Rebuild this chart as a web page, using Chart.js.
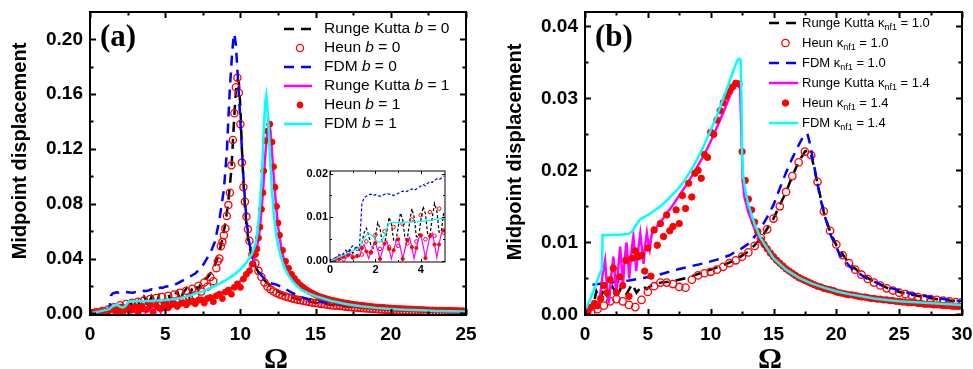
<!DOCTYPE html>
<html lang="en">
<head>
<meta charset="UTF-8">
<title>Midpoint displacement vs Ω</title>
<script src="https://cdn.jsdelivr.net/npm/chart.js"></script>
<style>
  body { margin: 0; background: #fff; }
  .wrap { position: relative; width: 973px; height: 369px; }
  canvas { position: absolute; }
</style>
</head>
<body>
<div class="wrap">
  <canvas id="chartA" width="480" height="369" style="left:0;top:0"></canvas>
  <canvas id="chartB" width="483" height="369" style="left:490px;top:0"></canvas>
  <canvas id="inset" width="160" height="112" style="left:292px;top:165px"></canvas>
</div>
<script>
function seq(a, b, step) {
  const n = Math.round((b - a) / step), out = [];
  for (let i = 0; i <= n; i++) out.push(Math.round((a + i * step) * 100) / 100);
  return out;
}

// ---------- panel (a) ----------
const xTicksA = [0, 5, 10, 15, 20, 25];
const yTicksA = [0, 0.04, 0.08, 0.12, 0.16, 0.20];
const xTicksInset = [0, 2, 4];
const yTicksInset = [0, 0.01, 0.02];

// small-Ω part (also what the inset shows), step 0.1 from 0 to 5
const omegaLowA = seq(0, 5, 0.1);
const rkB0Low = [0, .0002, .0005, .0008, .0006, .0012, .0015, .0010, .0020, .0025,
  .0018, .0028, .0032, .0025, .0040, .0065, .0075, .0060, .0035, .0030,
  .0055, .0088, .0075, .0042, .0038, .0068, .0100, .0085, .0048, .0045,
  .0078, .0110, .0095, .0052, .0050, .0088, .0120, .0102, .0056, .0055,
  .0095, .0125, .0108, .0060, .0060, .0100, .0132, .0115, .0066, .0068, .0110];
const fdmB0Low = [0, .0003, .0006, .0010, .0015, .0012, .0018, .0025, .0020, .0030,
  .0035, .0030, .0032, .0035, .0130, .0145, .0148, .0152, .0153, .0150,
  .0152, .0150, .0148, .0150, .0153, .0155, .0153, .0152, .0150, .0152,
  .0155, .0158, .0160, .0158, .0160, .0163, .0165, .0162, .0165, .0168,
  .0172, .0175, .0172, .0178, .0182, .0180, .0185, .0188, .0186, .0190, .0195];
const rkB1Low = [0, .0002, .0003, .0006, .0004, .0008, .0011, .0007, .0013, .0016,
  .0010, .0008, .0012, .0010, .0030, .0038, .0022, .0006, .0020, .0036,
  .0042, .0025, .0005, .0022, .0040, .0046, .0028, .0005, .0025, .0044,
  .0050, .0030, .0005, .0028, .0048, .0054, .0032, .0006, .0030, .0052,
  .0059, .0035, .0007, .0033, .0057, .0064, .0038, .0008, .0038, .0064, .0070];
const fdmB1Low = [0, .0002, .0004, .0007, .0009, .0011, .0014, .0016, .0019, .0021,
  .0024, .0026, .0029, .0031, .0043, .0052, .0060, .0063, .0061, .0056,
  .0049, .0044, .0043, .0048, .0060, .0076, .0086, .0088, .0088, .0088,
  .0088, .0088, .0088, .0089, .0089, .0089, .0089, .0090, .0090, .0090,
  .0091, .0091, .0092, .0093, .0093, .0094, .0095, .0096, .0096, .0097, .0098];

// rest of the Ω range
const rkB0HighX = [5.2, 5.4, 5.6, 5.8, 6.0, 6.2, 6.4, 6.6, 6.8, 7.0, 7.2, 7.4, 7.6, 7.8, 8.0,
  8.2, 8.4, 8.6, 8.8, 9.0, 9.2, 9.4, 9.5, 9.6, 9.7, 9.8, 9.85, 9.9, 10.0, 10.1,
  10.2, 10.3, 10.4, 10.5, 10.6, 10.8, 11.0, 11.3, 11.6, 12.0, 12.5, 13, 14, 15, 16,
  17, 18, 19, 20, 21, 22, 23, 24, 25];
const rkB0High = [.0145, .0080, .0130, .0160, .0095, .0150, .0180, .0120, .0185, .0210,
  .0170, .0230, .0250, .0260, .0290, .0330, .0380, .0450, .0540, .0660,
  .0820, .1050, .1250, .1450, .1620, .1700, .1700, .1680, .1500, .1200,
  .0960, .0780, .0650, .0560, .0490, .0400, .0340, .0280, .0240, .0200,
  .0160, .0130, .0098, .0077, .0062, .0050, .0041, .0034, .0028, .0023,
  .0019, .0016, .0013, .0011];
const fdmB0HighX = [5.5, 6.0, 6.5, 7.0, 7.5, 8.0, 8.3, 8.6, 8.9, 9.1, 9.2, 9.3, 9.42, 9.52, 9.6,
  9.7, 9.8, 9.9, 10.0, 10.1, 10.2, 10.3, 10.4, 10.5, 10.6, 10.8, 11.0, 11.3, 11.6, 12.0,
  12.4, 12.8, 13.2, 13.6, 14.0, 14.5, 15, 16, 17, 18, 19, 20, 21, 22, 23, 23.5];
const fdmB0High = [.020, .023, .026, .029, .035, .044, .052, .068, .090, .118,
  .142, .164, .185, .199, .204, .196, .178, .160, .140, .120,
  .100, .083, .069, .059, .051, .042, .035, .029, .025, .022,
  .021, .019, .0165, .0140, .0120, .0102, .0090, .0072, .0058, .0047,
  .0039, .0033, .0028, .0024, .0021, .0020];
const rkB1HighX = [5.2, 5.4, 5.6, 5.8, 6.0, 6.2, 6.4, 6.6, 6.8, 7.0, 7.5, 8, 8.5, 9, 9.5,
  10, 10.4, 10.7, 10.9, 11.1, 11.3, 11.5, 11.65, 11.8, 11.9, 12, 12.1, 12.2, 12.3, 12.4,
  12.5, 12.7, 12.9, 13.2, 13.5, 14, 14.5, 15, 16, 17, 18, 19, 20, 21, 22, 23, 24, 25];
const rkB1High = [.0040, .0060, .0075, .0050, .0070, .0082, .0065, .0080, .0090, .0092,
  .0100, .0115, .0135, .0160, .0190, .0235, .0290, .0340, .0390, .0470,
  .0620, .0880, .1150, .1330, .1385, .1330, .1180, .1020, .0880, .0750,
  .0640, .0490, .0390, .0300, .0245, .0185, .0152, .0128, .0095, .0072,
  .0056, .0045, .0037, .0031, .0026, .0022, .0019, .0017];
const fdmB1HighX = [5.5, 6, 6.5, 7, 7.5, 8, 8.5, 9, 9.5, 10, 10.4, 10.7, 10.9, 11.1, 11.3,
  11.45, 11.55, 11.65, 11.72, 11.8, 11.9, 12, 12.1, 12.2, 12.35, 12.5, 12.7, 12.9, 13.2, 13.5,
  14, 14.5, 15, 16, 17, 18, 19, 20, 21, 22, 23, 24, 25];
const fdmB1High = [.0102, .0110, .0125, .0143, .0160, .0185, .0210, .0240, .0275, .0320,
  .0370, .0420, .0470, .0560, .0780, .1050, .1330, .1540, .1590, .1500,
  .1300, .1080, .0900, .0750, .0600, .0500, .0410, .0340, .0275, .0230,
  .0175, .0148, .0125, .0092, .0068, .0052, .0040, .0032, .0026, .0022,
  .0018, .0015, .0013];

// Heun markers
const heunB0X = [...seq(0.2, 8.4, 0.2), ...seq(8.5, 10.6, 0.1), ...seq(10.8, 25, 0.2)];
const heunB0 = [.0003, .0008, .0004, .0018, .0010, .0028, .0015, .0045, .0020, .0060,
  .0028, .0068, .0032, .0078, .0035, .0085, .0040, .0095, .0045, .0105,
  .0050, .0112, .0058, .0120, .0065, .0128, .0072, .0138, .0082, .0150,
  .0095, .0165, .0110, .0180, .0130, .0200, .0160, .0225, .0195, .0265,
  .0235, .0330,
  .0380, .0400, .0490, .0520, .0570, .0620, .0710, .0790, .0880, .1080,
  .1265, .1460, .1650, .1720, .1610, .1380, .1100, .0920, .0815, .0706,
  .0613, .0530,
  .0430, .0365, .0310, .0265, .0225, .0195, .0175, .0160, .0148, .0138,
  .0130, .0123, .0116, .0110, .0104, .0099, .0095, .0090, .0086, .0082,
  .0078, .0075, .0072, .0069, .0066, .0063, .0060, .0057, .0055, .0053,
  .0051, .0049, .0047, .0045, .0043, .0041, .0039, .0037, .0035, .0034,
  .0032, .0031, .0029, .0028, .0027, .0026, .0025, .0024, .0023, .0022,
  .0021, .0020, .0019, .0019, .0018, .0017, .0017, .0016, .0015, .0015,
  .0014, .0014, .0013, .0013, .0012, .0012, .0011, .0011, .0010, .0010,
  .0010, .0009];
const heunB1X = [...seq(0.2, 11, 0.2),
  11.1, 11.2, 11.3, 11.4, 11.5, 11.55, 11.65, 11.8, 11.95, 12.1, 12.2, 12.3, 12.4, 12.5, 12.6, 12.8,
  ...seq(13, 25, 0.2)];
const heunB1 = [.0002, .0005, .0010, .0014, .0008, .0012, .0030, .0022, .0020, .0042,
  .0005, .0040, .0028, .0025, .0050, .0005, .0048, .0032, .0030, .0059,
  .0007, .0057, .0038, .0038, .0070, .0040, .0062, .0072, .0050, .0070,
  .0078, .0062, .0082, .0088, .0070, .0095, .0098, .0075, .0108, .0115,
  .0085, .0128, .0140, .0108, .0155, .0170, .0140, .0190, .0215, .0190,
  .0250, .0285, .0310, .0360, .0430,
  .0470, .0550, .0630, .0760, .0880, .1040, .1260, .1330, .1380, .1250,
  .1070, .0920, .0780, .0660, .0570, .0460,
  .0380, .0330, .0285, .0255, .0228, .0205, .0188, .0172, .0158, .0146,
  .0135, .0125, .0118, .0111, .0104, .0098, .0093, .0088, .0083, .0079,
  .0075, .0072, .0068, .0065, .0062, .0059, .0057, .0054, .0052, .0049,
  .0047, .0045, .0044, .0042, .0040, .0039, .0037, .0036, .0035, .0034,
  .0033, .0032, .0031, .0030, .0029, .0028, .0027, .0026, .0025, .0025,
  .0024, .0023, .0023, .0022, .0022, .0021, .0020, .0020, .0019, .0019,
  .0018];

// ---------- panel (b) ----------
const xTicksB = [0, 5, 10, 15, 20, 25, 30];
const yTicksB = [0, 0.01, 0.02, 0.03, 0.04];

const rkK10X = [0, 0.4, 0.7, 0.9, 1.2, 1.5, 1.85, 2.2, 2.6, 2.95, 3.3, 3.75, 4.1, 4.55, 4.9,
  5.3, 6, 7, 8, 9, 10, 11, 12, 13, 14, 15, 16, 16.5, 17, 17.5,
  17.8, 18, 18.5, 19, 19.5, 20, 21, 22, 23, 24, 25, 26, 27, 28, 29, 30];
const rkK10 = [.0003, .0008, .0015, .0032, .0020, .0036, .0022, .0038, .0025, .0041,
  .0028, .0042, .0030, .0040, .0035, .0040, .0044, .0046, .0050, .0056,
  .0062, .0068, .0076, .0087, .0105, .0133, .0170, .0192, .0212, .0226,
  .0228, .0222, .0182, .0142, .0115, .0096, .0071, .0056, .0045, .0037,
  .0031, .0027, .0024, .0021, .0019, .0018];
const heunK10X = seq(0.5, 30, 0.5);
const heunK10 = [.0003, .0007, .0012, .0018, .0021, .0018, .0013, .0010, .0020, .0031,
  .0039, .0044, .0044, .0042, .0038, .0037, .0048, .0054, .0057, .0059,
  .0062, .0066, .0071, .0075, .0080, .0086, .0095, .0106, .0118, .0133,
  .0150, .0170, .0192, .0211, .0226, .0221, .0184, .0143, .0116, .0097,
  .0082, .0071, .0062, .0055, .0049, .0044, .0040, .0036, .0033, .0030,
  .0028, .0026, .0024, .0022, .0021, .0020, .0019, .0018, .0017, .0017];
const fdmK10X = [0.6, 1.5, 2.5, 3.5, 4.5, 5.5, 6.5, 7.5, 8.5, 9.5, 10.5, 11.5, 12.5, 13, 13.5,
  14, 14.5, 15, 15.5, 16, 16.5, 17, 17.4, 17.7, 17.9, 18.3, 18.7, 19.1, 19.6, 20.3,
  21.2, 22.4, 24, 25.9, 27.8, 30];
const fdmK10 = [.0041, .0043, .0045, .0047, .0050, .0053, .0058, .0063, .0067, .0071,
  .0076, .0082, .0092, .0098, .0108, .0120, .0135, .0152, .0175, .0197,
  .0217, .0235, .0248, .0251, .0237, .0200, .0163, .0135, .0108, .0082,
  .0064, .0050, .0038, .0029, .0023, .0018];
const rkK14X = [0, 0.5, 1.0, 1.2, 1.4, 1.6, 1.75, 1.9, 2.1, 2.26, 2.4, 2.5, 2.65, 2.8, 2.92,
  3.02, 3.15, 3.3, 3.42, 3.52, 3.68, 3.85, 3.97, 4.07, 4.25, 4.4, 4.55, 4.66, 4.8, 4.92,
  5.05, 5.15, 5.3, 5.45, 5.6, 5.8, 6, 6.5, 7, 7.5, 8, 8.5, 9, 9.5, 10,
  10.5, 11, 11.5, 11.8, 12, 12.2, 12.35, 12.45, 12.55, 12.7, 13, 13.5, 14, 15, 16,
  17, 18, 19, 20, 22, 24, 26, 28, 30];
const rkK14 = [.0003, .0006, .0010, .0025, .0055, .0075, .0040, .0015, .0055, .0080,
  .0050, .0025, .0065, .0094, .0065, .0038, .0075, .0100, .0075, .0050,
  .0085, .0108, .0085, .0060, .0092, .0112, .0088, .0070, .0098, .0113,
  .0098, .0090, .0110, .0120, .0118, .0124, .0128, .0140, .0152, .0165,
  .0178, .0192, .0207, .0222, .0240, .0260, .0280, .0302, .0314, .0320,
  .0322, .0312, .0250, .0185, .0162, .0142, .0118, .0100, .0076, .0060,
  .0049, .0041, .0035, .0031, .0024, .0019, .0016, .0013, .0012];
const heunK14X = seq(0.25, 30, 0.25);
const heunK14 = [.0004, .0010, .0015, .0012, .0022, .0040, .0030, .0048, .0064, .0030,
  .0052, .0040, .0075, .0025, .0078, .0088, .0080, .0082, .0060, .0092,
  .0053, .0117, .0096, .0126, .0108, .0138, .0116, .0122, .0145, .0126,
  .0165, .0147, .0182, .0163, .0196, .0200, .0189, .0222, .0218, .0253,
  .0250, .0270, .0283, .0294, .0303, .0310, .0316, .0321, .0320, .0226,
  .0186, .0160, .0145, .0128, .0115, .0103, .0097, .0091, .0085, .0080,
  .0075, .0071, .0067, .0063, .0060, .0057, .0054, .0051, .0049, .0047,
  .0045, .0043, .0041, .0039, .0038, .0036, .0035, .0034, .0033, .0031,
  .0030, .0029, .0028, .0027, .0027, .0026, .0025, .0024, .0024, .0023,
  .0022, .0022, .0021, .0021, .0020, .0020, .0019, .0019, .0018, .0018,
  .0017, .0017, .0016, .0016, .0016, .0015, .0015, .0014, .0014, .0014,
  .0013, .0013, .0013, .0012, .0012, .0012, .0011, .0011, .0011, .0011];
const fdmK14X = [0, 0.4, 0.8, 1.2, 1.35, 1.4, 2, 3, 3.5, 3.8, 4.1, 4.4, 4.8, 5.2, 6,
  6.5, 7, 7.5, 8, 8.5, 9, 9.5, 10, 10.5, 11, 11.5, 11.8, 12.1, 12.25, 12.38,
  12.45, 12.5, 12.6, 12.8, 13, 13.5, 14, 15, 16, 17, 18, 19, 20, 21, 22,
  23, 24, 25, 26, 27, 28, 29, 30];
const fdmK14 = [.0006, .0020, .0038, .0058, .0062, .0110, .0110, .0111, .0112, .0116,
  .0125, .0132, .0136, .0140, .0150, .0158, .0167, .0176, .0188, .0202,
  .0218, .0236, .0256, .0276, .0300, .0323, .0338, .0352, .0355, .0354,
  .0300, .0220, .0190, .0168, .0152, .0125, .0105, .0078, .0062, .0051,
  .0043, .0037, .0032, .0028, .0025, .0022, .0020, .0018, .0017, .0016,
  .0015, .0014, .0013];

// ---------- helpers ----------
const pts = (xs, ys) => xs.map((x, i) => ({ x, y: ys[i] }));

function lineSet(label, xs, ys, color, dash, w) {
  return { label, data: pts(xs, ys), borderColor: color, backgroundColor: color,
    borderWidth: w, borderDash: dash, pointRadius: 0, fill: false, tension: 0 };
}
function dotSet(label, xs, ys, color, filled, r, bw) {
  return { label, data: pts(xs, ys), showLine: false, borderColor: color,
    backgroundColor: filled ? color : 'rgba(0,0,0,0)', pointRadius: r,
    pointBorderWidth: bw, pointBorderColor: color,
    pointBackgroundColor: filled ? color : 'rgba(0,0,0,0)' };
}

// label text: *x* italic, _{x} subscript
function richText(ctx, str, x, y, size, family) {
  const parts = str.split(/(\*[^*]+\*|_\{[^}]+\})/).filter(Boolean);
  for (const p of parts) {
    let t = p, font = size + 'px ' + family, dy = 0;
    if (p[0] === '*') { t = p.slice(1, -1); font = 'italic ' + font; }
    else if (p.startsWith('_{')) { t = p.slice(2, -1); font = Math.round(size * 0.7) + 'px ' + family; dy = size * 0.32; }
    ctx.font = font;
    ctx.fillText(t, x, y + dy);
    x += ctx.measureText(t).width;
  }
}

const mids = arr => arr.slice(1).map((v, i) => (v + arr[i]) / 2);

const decor = {
  id: 'decor',
  afterDraw(chart, args, o) {
    const { ctx, chartArea: a, scales: { x, y } } = chart;
    ctx.save();
    ctx.strokeStyle = '#000';
    ctx.fillStyle = '#000';
    ctx.setLineDash([]);
    // inward ticks on all four sides
    ctx.lineWidth = o.tickWidth;
    ctx.beginPath();
    const xm = x.ticks.map(t => t.value), ym = y.ticks.map(t => t.value);
    [[xm, o.major], [mids(xm), o.minor]].forEach(([vals, len]) => vals.forEach(v => {
      const p = Math.round(x.getPixelForValue(v)) + 0.5;
      ctx.moveTo(p, a.bottom); ctx.lineTo(p, a.bottom - len);
      ctx.moveTo(p, a.top); ctx.lineTo(p, a.top + len);
    }));
    [[ym, o.major], [mids(ym), o.minor]].forEach(([vals, len]) => vals.forEach(v => {
      const p = Math.round(y.getPixelForValue(v)) + 0.5;
      ctx.moveTo(a.left, p); ctx.lineTo(a.left + len, p);
      ctx.moveTo(a.right, p); ctx.lineTo(a.right - len, p);
    }));
    ctx.stroke();
    ctx.lineWidth = o.frameWidth;
    ctx.strokeRect(a.left, a.top, a.right - a.left, a.bottom - a.top);

    if (o.panel) {
      ctx.font = 'bold 31px "Liberation Serif"';
      ctx.textBaseline = 'alphabetic';
      ctx.textAlign = 'left';
      ctx.fillText(o.panel, o.panelX, o.panelY);
      // x title
      ctx.font = 'bold 30px "Liberation Serif"';
      ctx.textAlign = 'center';
      ctx.fillText('Ω', o.xTitleX, o.xTitleY);
      // y title
      ctx.save();
      ctx.translate(o.yTitleX, o.yTitleY);
      ctx.rotate(-Math.PI / 2);
      ctx.font = 'bold 20px "Liberation Sans"';
      ctx.textBaseline = 'middle';
      ctx.fillText('Midpoint displacement', 0, 0);
      ctx.restore();
    }

    if (o.legend) {
      const L = o.legend;
      chart.data.datasets.forEach((ds, i) => {
        const yy = L.y0 + i * L.dy;
        if (ds.showLine === false) {
          ctx.beginPath();
          ctx.lineWidth = ds.pointBorderWidth;
          ctx.strokeStyle = ds.borderColor;
          ctx.fillStyle = ds.pointBackgroundColor;
          ctx.arc((L.x1 + L.x2) / 2 + 2, yy, ds.pointRadius, 0, Math.PI * 2);
          ctx.fill();
          ctx.stroke();
        } else {
          ctx.beginPath();
          ctx.lineWidth = ds.borderWidth;
          ctx.strokeStyle = ds.borderColor;
          ctx.setLineDash(ds.borderDash || []);
          ctx.moveTo(L.x1, yy); ctx.lineTo(L.x2, yy);
          ctx.stroke();
          ctx.setLineDash([]);
        }
        ctx.fillStyle = '#000';
        ctx.textAlign = 'left';
        ctx.textBaseline = 'middle';
        richText(ctx, ds.label, L.tx, yy, L.size, '"Liberation Sans"');
      });
    }
    ctx.restore();
  }
};

function axes(xMin, xMax, yMin, yMax, xTicks, yTicks, yDigits, fontSize, yWidth, xHeight, pad) {
  const font = { family: '"Liberation Sans"', size: fontSize, weight: 'bold' };
  return {
    x: {
      type: 'linear', min: xMin, max: xMax,
      grid: { display: false, drawTicks: false }, border: { display: false },
      ticks: { font, color: '#000', padding: pad.x, autoSkip: false, maxRotation: 0,
        callback: v => String(v) },
      afterBuildTicks: s => { s.ticks = xTicks.map(v => ({ value: v })); },
      afterFit: s => { s.height = xHeight; s.paddingLeft = 0; s.paddingRight = 0; }
    },
    y: {
      type: 'linear', min: yMin, max: yMax,
      grid: { display: false, drawTicks: false }, border: { display: false },
      ticks: { font, color: '#000', padding: pad.y, autoSkip: false,
        callback: v => Number(v).toFixed(yDigits) },
      afterBuildTicks: s => { s.ticks = yTicks.map(v => ({ value: v })); },
      afterFit: s => { s.width = yWidth; s.paddingTop = 0; s.paddingBottom = 0; }
    }
  };
}

function withOrder(sets) {
  return sets.map((d, i) => Object.assign(d, { order: sets.length - i }));
}

const common = {
  responsive: false, animation: false, devicePixelRatio: 1, events: [],
  plugins: { legend: { display: false }, tooltip: { enabled: false } }
};

// panel (a)
new Chart(document.getElementById('chartA'), {
  type: 'line',
  data: { datasets: withOrder([
    lineSet('Runge Kutta *b* = 0', [...omegaLowA, ...rkB0HighX], [...rkB0Low, ...rkB0High], '#000000', [10, 7], 2.5),
    dotSet('Heun *b* = 0', heunB0X, heunB0, '#ff0000', false, 3.6, 1.3),
    lineSet('FDM *b* = 0', [...omegaLowA, ...fdmB0HighX], [...fdmB0Low, ...fdmB0High], '#0000ff', [10, 7], 2.5),
    lineSet('Runge Kutta *b* = 1', [...omegaLowA, ...rkB1HighX], [...rkB1Low, ...rkB1High], '#ff00ff', [], 2.5),
    dotSet('Heun *b* = 1', heunB1X, heunB1, '#ff0000', true, 3, 1),
    lineSet('FDM *b* = 1', [...omegaLowA, ...fdmB1HighX], [...fdmB1Low, ...fdmB1High], '#00ffff', [], 2.5)
  ]) },
  options: Object.assign({}, common, {
    layout: { padding: { top: 12, right: 14, left: 0, bottom: 0 } },
    scales: axes(0, 25, -0.0012, 0.2199, xTicksA, yTicksA, 2, 19, 90, 54, { x: 8, y: 7 }),
    plugins: Object.assign({}, common.plugins, {
      decor: { frameWidth: 2, tickWidth: 2, major: 6, minor: 3.5,
        panel: '(a)', panelX: 100, panelY: 46, xTitleX: 276, xTitleY: 368, yTitleX: 20, yTitleY: 151,
        legend: { x1: 284, x2: 312, tx: 324, y0: 29, dy: 19, size: 15.5 } }
    })
  }),
  plugins: [decor]
});

// inset of panel (a)
new Chart(document.getElementById('inset'), {
  type: 'line',
  data: { datasets: withOrder([
    lineSet('', omegaLowA, rkB0Low, '#000000', [3, 2], 1.2),
    dotSet('', heunB0X.slice(0, 26), heunB0.slice(0, 26), '#ff0000', false, 1.8, 1),
    lineSet('', omegaLowA, fdmB0Low, '#0000ff', [3, 2], 1.2),
    lineSet('', omegaLowA, rkB1Low, '#ff00ff', [], 1.2),
    dotSet('', heunB1X.slice(0, 26), heunB1.slice(0, 26), '#ff0000', true, 1.6, 1),
    lineSet('', omegaLowA, fdmB1Low, '#00ffff', [], 1.2)
  ]) },
  options: Object.assign({}, common, {
    layout: { padding: { top: 6, right: 7, left: 0, bottom: 0 } },
    scales: axes(0, 5.06, -0.0002, 0.0206, xTicksInset, yTicksInset, 2, 11, 38, 15, { x: 1, y: 2 }),
    plugins: Object.assign({}, common.plugins, {
      decor: { frameWidth: 1, tickWidth: 1, major: 3, minor: 2 }
    })
  }),
  plugins: [decor]
});

// panel (b)
new Chart(document.getElementById('chartB'), {
  type: 'line',
  data: { datasets: withOrder([
    lineSet('Runge Kutta κ_{nf1} = 1.0', rkK10X, rkK10, '#000000', [10, 7], 2.5),
    dotSet('Heun κ_{nf1} = 1.0', heunK10X, heunK10, '#ff0000', false, 3.7, 1.3),
    lineSet('FDM κ_{nf1} = 1.0', fdmK10X, fdmK10, '#0000ff', [10, 7], 2.5),
    lineSet('Runge Kutta κ_{nf1} = 1.4', rkK14X, rkK14, '#ff00ff', [], 2.5),
    dotSet('Heun κ_{nf1} = 1.4', heunK14X, heunK14, '#ff0000', true, 3.2, 1),
    lineSet('FDM κ_{nf1} = 1.4', fdmK14X, fdmK14, '#00ffff', [], 2.5)
  ]) },
  options: Object.assign({}, common, {
    layout: { padding: { top: 12, right: 11, left: 0, bottom: 0 } },
    scales: axes(0, 30, -0.0001, 0.042, xTicksB, yTicksB, 2, 19, 95, 54, { x: 8, y: 7 }),
    plugins: Object.assign({}, common.plugins, {
      decor: { frameWidth: 2, tickWidth: 2, major: 6, minor: 3.5,
        panel: '(b)', panelX: 105, panelY: 46, xTitleX: 280, xTitleY: 368, yTitleX: 25, yTitleY: 152,
        legend: { x1: 279, x2: 308, tx: 312, y0: 23, dy: 20, size: 13 } }
    })
  }),
  plugins: [decor]
});
</script>
</body>
</html>
